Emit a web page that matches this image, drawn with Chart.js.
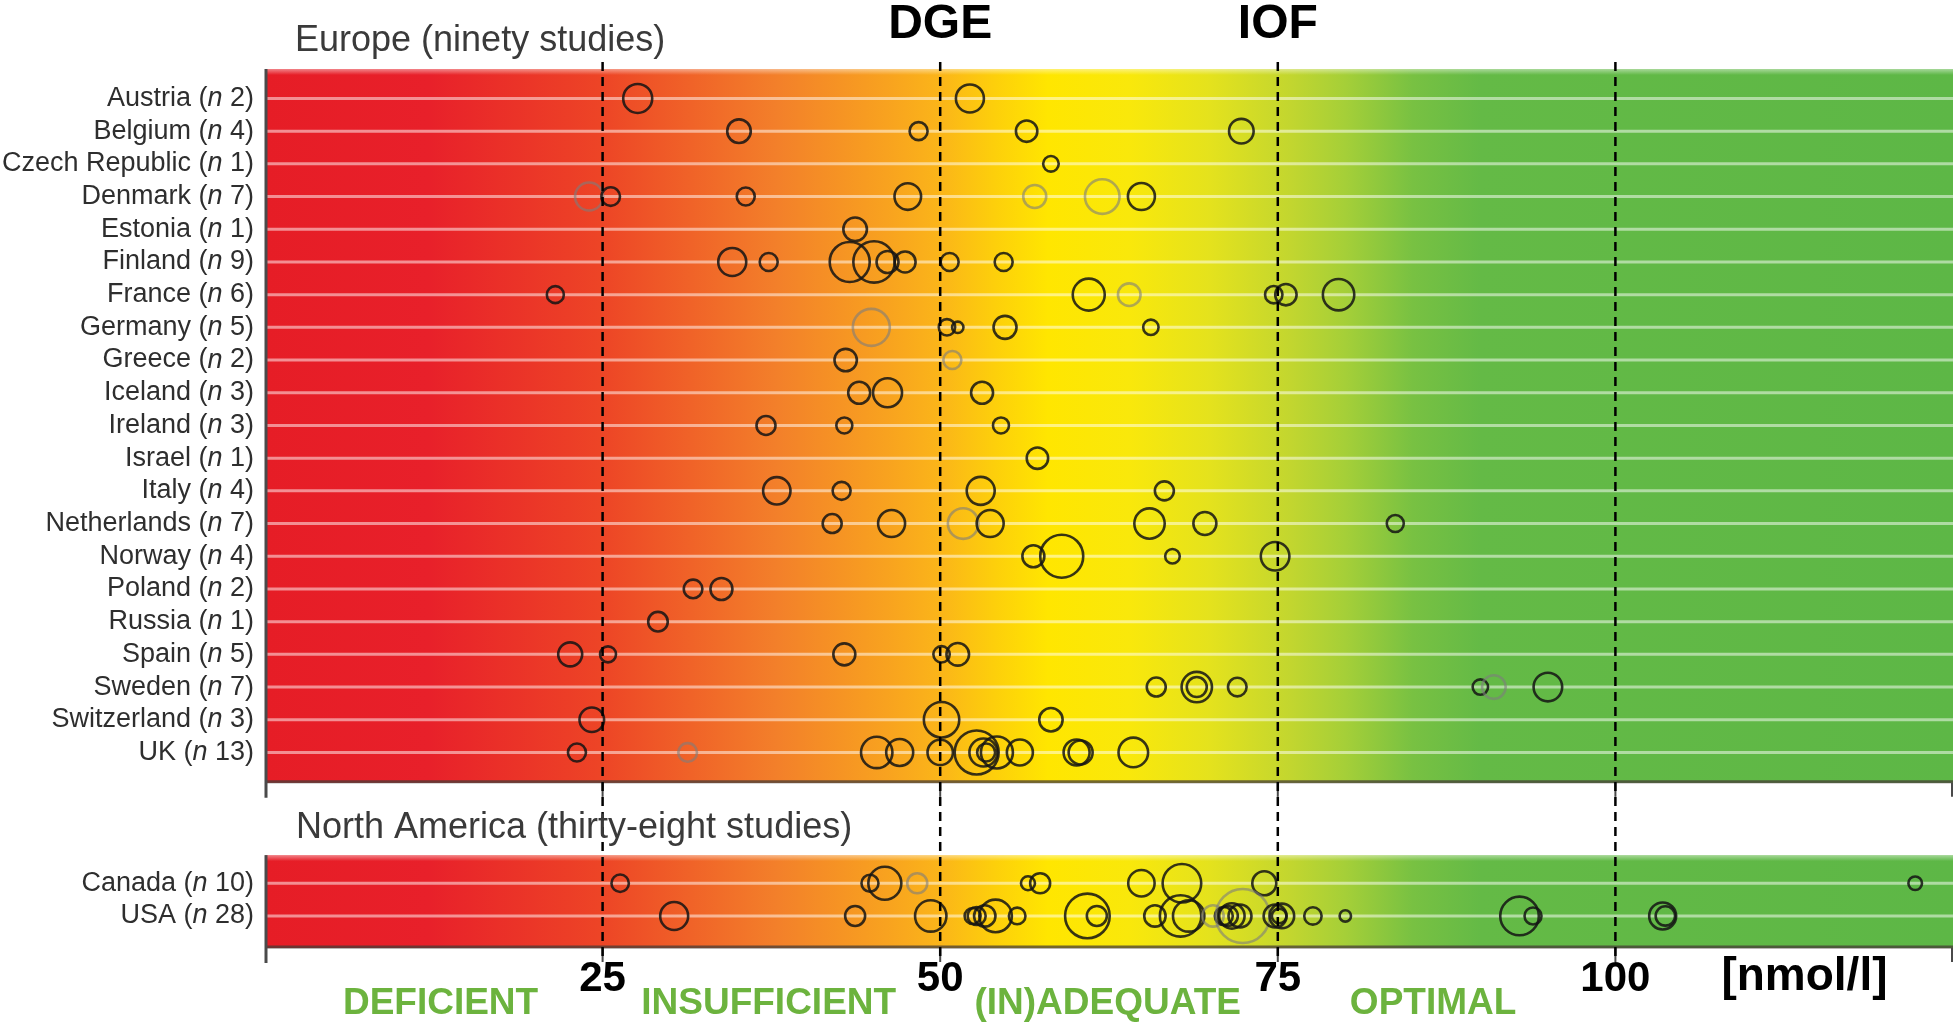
<!DOCTYPE html>
<html>
<head>
<meta charset="utf-8">
<script src="https://cdn.jsdelivr.net/npm/chart.js@4.4.1/dist/chart.umd.min.js"></script>
<style>
  html, body { margin: 0; padding: 0; background: #fff; overflow: hidden; }
  canvas { display: block; }
</style>
</head>
<body>
<canvas id="chart" width="1959" height="1026"></canvas>
<script>
// countries with number of studies
const europeCountries = ['Austria', 'Belgium', 'Czech Republic', 'Denmark', 'Estonia', 'Finland', 'France',
  'Germany', 'Greece', 'Iceland', 'Ireland', 'Israel', 'Italy', 'Netherlands', 'Norway', 'Poland',
  'Russia', 'Spain', 'Sweden', 'Switzerland', 'UK'];
const europeCounts = [2, 4, 1, 7, 1, 9, 6, 5, 2, 3, 3, 1, 4, 7, 4, 2, 1, 5, 7, 3, 13];
const naCountries = ['Canada', 'USA'];
const naCounts = [10, 28];

// mean 25(OH)D per study in nmol/l, one list per country
const europeMeans = [
  [27.6, 52.2],
  [35.1, 48.4, 56.4, 72.3],
  [58.2],
  [24.0, 25.6, 35.6, 47.6, 57.0, 62.0, 64.9],
  [43.7],
  [34.6, 37.3, 43.3, 45.1, 46.1, 47.4, 50.7, 54.7],
  [21.5, 61.0, 64.0, 74.7, 75.6, 79.5],
  [44.9, 50.5, 51.3, 54.8, 65.6],
  [43.0, 50.9],
  [44.0, 46.1, 53.1],
  [37.1, 42.9, 54.5],
  [57.2],
  [37.9, 42.7, 53.0, 66.6],
  [42.0, 46.4, 51.7, 53.7, 65.5, 69.6, 83.7],
  [56.9, 59.0, 67.2, 74.8],
  [31.7, 33.8],
  [29.1],
  [22.6, 25.4, 42.9, 50.1, 51.3],
  [66.0, 69.0, 69.0, 72.0, 90.0, 91.0, 95.0],
  [24.2, 50.1, 58.2],
  [23.1, 31.3, 45.3, 47.0, 50.0, 52.7, 53.2, 53.4, 54.2, 55.9, 60.1, 60.4, 64.3]
];
// bubble size (study size), same layout
const europeSizes = [
  [15.5, 15],
  [12.8, 10, 11.7, 13.3],
  [8.8],
  [15, 10.3, 10, 14.3, 12.5, 18.3, 14.5],
  [12.8],
  [15, 10, 21, 21.7, 12, 11.5, 10, 10],
  [9.5, 17, 12.3, 9.7, 11.7, 16.7],
  [19.5, 9.2, 6.7, 12.5, 8.7],
  [12.2, 10],
  [12, 15.5, 12],
  [10.5, 9, 9],
  [11.7],
  [14.7, 10, 15, 10.5],
  [10.5, 14.5, 16.3, 14.5, 16.2, 12.5, 9.5],
  [12, 22.5, 8.3, 15.3],
  [10.3, 12],
  [10.8],
  [13, 9, 12, 9.2, 12.3],
  [10.5, 16.2, 11, 10.3, 8.7, 12.8, 15.3],
  [13.3, 18.7, 12.7],
  [10, 10.3, 16.7, 14.5, 13.7, 23, 15, 10, 17, 14, 14, 13, 15.8]
];
// studies printed in grey
const europeFaded = [
  [0, 0], [0, 0, 0, 0], [0], [1, 0, 0, 0, 1, 1, 0], [0], [0, 0, 0, 0, 0, 0, 0, 0],
  [0, 0, 1, 0, 0, 0], [1, 0, 0, 0, 0], [0, 1], [0, 0, 0], [0, 0, 0], [0], [0, 0, 0, 0],
  [0, 0, 1, 0, 0, 0, 0], [0, 0, 0, 0], [0, 0], [0], [0, 0, 0, 0, 0], [0, 0, 0, 0, 0, 1, 0],
  [0, 0, 0], [0, 1, 0, 0, 0, 0, 0, 0, 0, 0, 0, 0, 0]
];

const naMeans = [
  [26.3, 44.8, 45.9, 48.3, 56.5, 57.4, 64.9, 67.9, 74.0, 122.2],
  [30.3, 43.7, 49.3, 52.4, 52.7, 53.3, 54.1, 55.7, 60.9, 61.6, 65.9, 67.8, 68.4, 70.2,
   71.0, 71.3, 71.6, 72.2, 72.4, 74.8, 75.1, 75.3, 77.6, 80.0, 92.9, 93.9, 103.5, 103.7]
];
const naSizes = [
  [9.7, 9.5, 17.5, 11, 8, 11, 14.2, 20.3, 13, 7.8],
  [15, 11, 16.7, 9, 10, 11.7, 17.3, 9.3, 23.3, 11, 11.7, 21.7, 16.7, 11.7,
   10, 11, 13.7, 12.5, 28, 12.5, 8.3, 13.3, 9.7, 6.7, 20.3, 9.5, 14.5, 10.7]
];
const naFaded = [
  [0, 0, 0, 1, 0, 0, 0, 0, 0, 0],
  [0, 0, 0, 0, 0, 0, 0, 0, 0, 0, 0, 0, 0, 1, 0, 0, 0, 0, 1, 0, 0, 0, 0, 0, 0, 0, 0, 0]
];

const thresholds = [25, 50, 75, 100];
const guideNames = ['DGE', 'IOF'];
const guideValues = [50, 75];
const statusNames = ['DEFICIENT', 'INSUFFICIENT', '(IN)ADEQUATE', 'OPTIMAL'];
const statusCenters = [13, 37.3, 62.4, 86.5];
const unitLabel = '[nmol/l]';

const NA_OFFSET = 24; // rows of North America sit below a gap on the same y scale
const FONT = '"Liberation Sans", Arial, Helvetica, sans-serif';

function toPoints(means, sizes, faded, offset) {
  const pts = [];
  means.forEach((row, i) => {
    row.forEach((m, j) => {
      pts.push({ x: m, y: i + offset, r: sizes[i][j] - 1, faded: faded[i][j] });
    });
  });
  return pts;
}

// colour ramp of the bands, by nmol/l
const ramp = [
  [0, '#e61d26'], [12, '#e8202a'], [25, '#ed4526'], [38, '#f3802a'], [46, '#f8a21f'],
  [50, '#fbb519'], [54, '#fdcf0b'], [58, '#ffe600'], [64, '#f9e80b'], [70, '#e4e21d'],
  [76, '#c2d62f'], [80, '#a5cf38'], [85, '#78c142'], [90, '#64ba46'], [125, '#5db746']
];
const bands = [
  { from: -0.9, to: 20.93, rows: europeCountries.length, offset: 0 },
  { from: 23.14, to: 25.98, rows: naCountries.length, offset: NA_OFFSET }
];

const bandPlugin = {
  id: 'bands',
  beforeDatasetsDraw(chart) {
    const { ctx, scales: { x, y } } = chart;
    const x0 = x.getPixelForValue(0), x1 = x.getPixelForValue(125);
    const grad = ctx.createLinearGradient(x0, 0, x1, 0);
    ramp.forEach(([v, c]) => grad.addColorStop(v / 125, c));
    ctx.save();
    bands.forEach(b => {
      const top = y.getPixelForValue(b.from), bottom = y.getPixelForValue(b.to);
      ctx.fillStyle = grad;
      ctx.fillRect(x0, top, x1 - x0, bottom - top);
      // soft top edge
      const g2 = ctx.createLinearGradient(0, top, 0, top + 6);
      g2.addColorStop(0, 'rgba(255,255,255,0.45)');
      g2.addColorStop(1, 'rgba(255,255,255,0)');
      ctx.fillStyle = g2;
      ctx.fillRect(x0, top, x1 - x0, 6);
      // row lines
      ctx.strokeStyle = 'rgba(255,255,255,0.5)';
      ctx.lineWidth = 3;
      for (let r = 0; r < b.rows; r++) {
        const py = y.getPixelForValue(r + b.offset);
        ctx.beginPath(); ctx.moveTo(x0, py); ctx.lineTo(x1, py); ctx.stroke();
      }
      // bottom shadow line
      ctx.strokeStyle = 'rgba(70,60,55,0.75)';
      ctx.lineWidth = 3;
      ctx.beginPath(); ctx.moveTo(x0, bottom - 1); ctx.lineTo(x1, bottom - 1); ctx.stroke();
      // axis: left line plus ticks
      ctx.strokeStyle = '#4a4a4a';
      ctx.lineWidth = 3;
      ctx.beginPath(); ctx.moveTo(x0 + 1, top); ctx.lineTo(x0 + 1, bottom + 15); ctx.stroke();
      ctx.lineWidth = 2;
      [25, 50, 75, 100, 125].forEach(v => {
        const px = Math.min(x.getPixelForValue(v), x1 - 1);
        ctx.beginPath(); ctx.moveTo(px, bottom); ctx.lineTo(px, bottom + 14); ctx.stroke();
      });
    });
    ctx.restore();
  }
};

function drawCountry(ctx, name, n, xRight, yMid) {
  const reg = '27px ' + FONT;
  const ita = 'italic 27px ' + FONT;
  const parts = [[name + ' (', reg], ['n', ita], [' ' + n + ')', reg]];
  let total = 0;
  parts.forEach(p => { ctx.font = p[1]; total += ctx.measureText(p[0]).width; });
  let px = xRight - total;
  parts.forEach(p => {
    ctx.font = p[1];
    ctx.fillText(p[0], px, yMid);
    px += ctx.measureText(p[0]).width;
  });
}

const overlayPlugin = {
  id: 'overlay',
  afterDatasetsDraw(chart) {
    const { ctx, chartArea: a, scales: { x, y } } = chart;
    ctx.save();
    // guideline dashes
    ctx.strokeStyle = '#000';
    ctx.lineWidth = 2.5;
    ctx.setLineDash([9, 6]);
    thresholds.forEach(v => {
      const px = x.getPixelForValue(v);
      ctx.beginPath(); ctx.moveTo(px, a.top - 7); ctx.lineTo(px, a.bottom + 12); ctx.stroke();
    });
    ctx.setLineDash([]);

    // country labels
    ctx.fillStyle = '#2e2e2e';
    ctx.textBaseline = 'middle';
    ctx.textAlign = 'left';
    europeCountries.forEach((c, i) => drawCountry(ctx, c, europeCounts[i], a.left - 11, y.getPixelForValue(i)));
    naCountries.forEach((c, i) => drawCountry(ctx, c, naCounts[i], a.left - 11, y.getPixelForValue(i + NA_OFFSET)));

    // region titles
    ctx.fillStyle = '#3a3a3a';
    ctx.font = '36px ' + FONT;
    ctx.fillText('Europe (ninety studies)', a.left + 30, 41);
    ctx.fillText('North America (thirty-eight studies)', a.left + 31, 828);

    // guideline names
    ctx.fillStyle = '#000';
    ctx.textAlign = 'center';
    ctx.font = 'bold 48px ' + FONT;
    guideNames.forEach((g, i) => ctx.fillText(g, x.getPixelForValue(guideValues[i]), 25));

    // threshold numbers and unit
    ctx.font = 'bold 42px ' + FONT;
    thresholds.forEach(v => ctx.fillText(String(v), x.getPixelForValue(v), 979));
    ctx.font = 'bold 46px ' + FONT;
    ctx.fillText(unitLabel, x.getPixelForValue(114), 977);

    // status names
    ctx.fillStyle = '#6cb33e';
    ctx.font = 'bold 37px ' + FONT;
    statusNames.forEach((s, i) => ctx.fillText(s, x.getPixelForValue(statusCenters[i]), 1004));
    ctx.restore();
  }
};

new Chart(document.getElementById('chart'), {
  type: 'bubble',
  data: {
    datasets: [
      { label: 'Europe', data: toPoints(europeMeans, europeSizes, europeFaded, 0) },
      { label: 'North America', data: toPoints(naMeans, naSizes, naFaded, NA_OFFSET) }
    ]
  },
  options: {
    responsive: false,
    animation: false,
    events: [],
    devicePixelRatio: 1,
    layout: { autoPadding: false, padding: { left: 265, right: 6, top: 69, bottom: 78 } },
    scales: {
      x: { type: 'linear', min: 0, max: 125, display: false },
      y: { type: 'linear', min: -0.9, max: 25.98, reverse: true, display: false }
    },
    elements: {
      point: {
        backgroundColor: 'rgba(0,0,0,0)',
        borderColor: ctx => (ctx.raw && ctx.raw.faded) ? 'rgba(125,125,125,0.6)' : 'rgba(20,20,20,0.85)',
        borderWidth: 2.6
      }
    },
    datasets: { bubble: { clip: false } },
    plugins: { legend: { display: false }, tooltip: { enabled: false } }
  },
  plugins: [bandPlugin, overlayPlugin]
});
</script>
</body>
</html>
